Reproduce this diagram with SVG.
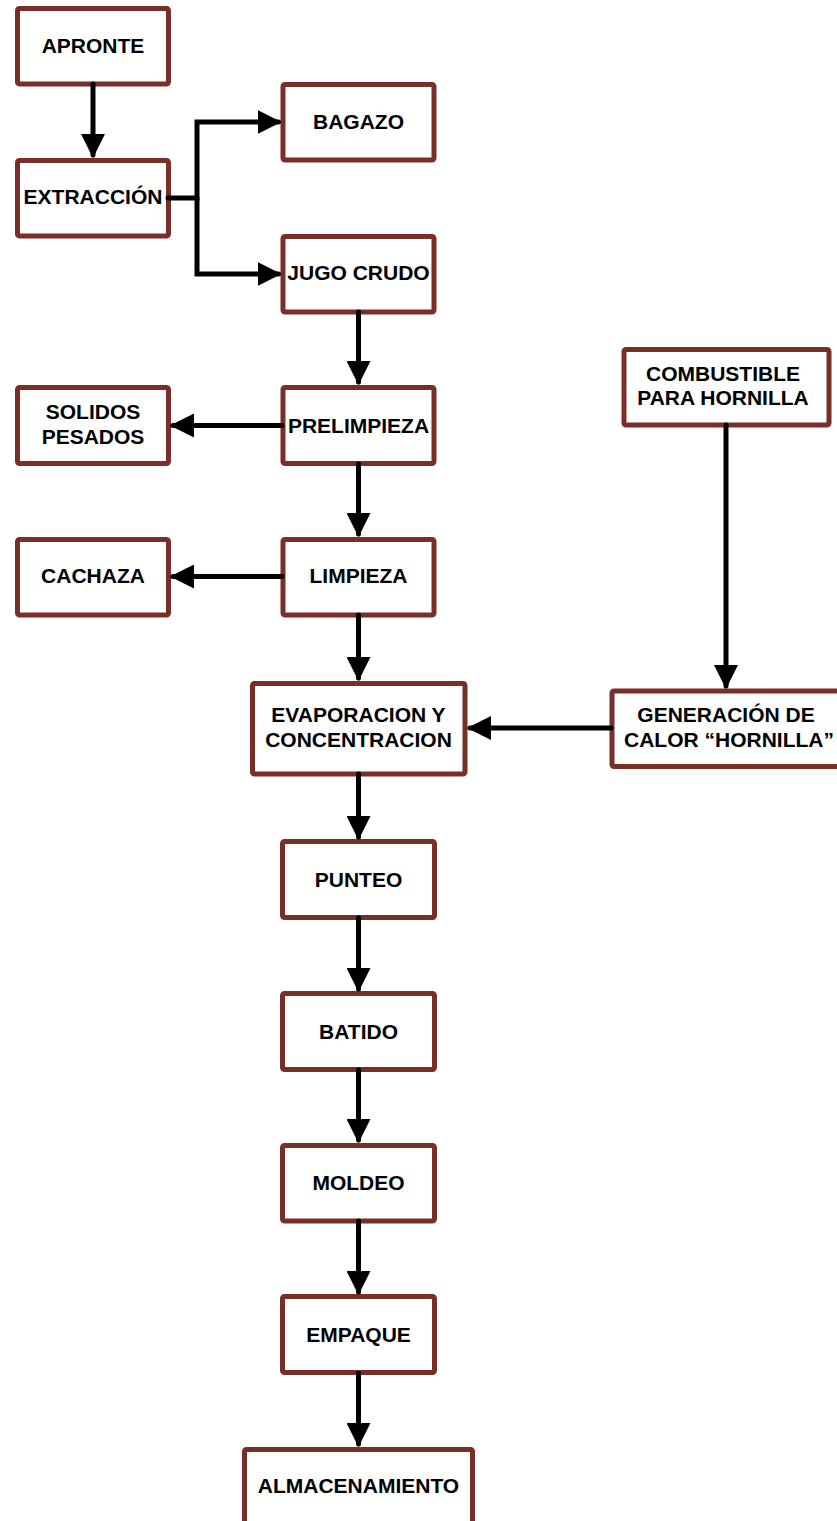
<svg xmlns="http://www.w3.org/2000/svg" width="837" height="1521" viewBox="0 0 837 1521">
  <style>
    .box { fill: #ffffff; stroke: #7a2e28; stroke-width: 5; }
    .lbl { font-family: "Liberation Sans", Arial, sans-serif; font-weight: bold; font-size: 21px; fill: #000000; text-anchor: middle; }
    .wire { fill: none; stroke: #000000; stroke-width: 5; stroke-linecap: round; stroke-linejoin: miter; }
  </style>
  <defs>
    <marker id="head" markerUnits="userSpaceOnUse" markerWidth="24" markerHeight="24" refX="21" refY="12" orient="auto">
      <path d="M0,0 L24,12 L0,24 Z" fill="#000000"/>
    </marker>
  </defs>
  <rect width="837" height="1521" fill="#ffffff"/>

  <!-- process steps -->
  <g id="apronte">
    <rect class="box" x="17.5" y="8.5" width="151" height="75.5" rx="2"/>
    <text class="lbl" x="93" y="53">APRONTE</text>
  </g>
  <g id="extraccion">
    <rect class="box" x="17.5" y="160.5" width="151" height="75.5" rx="2"/>
    <text class="lbl" x="93" y="204">EXTRACCIÓN</text>
  </g>
  <g id="bagazo">
    <rect class="box" x="283" y="84.5" width="151" height="75.5" rx="2"/>
    <text class="lbl" x="358.5" y="129">BAGAZO</text>
  </g>
  <g id="jugo-crudo">
    <rect class="box" x="283" y="236.5" width="151" height="75.5" rx="2"/>
    <text class="lbl" x="358.5" y="279.5">JUGO CRUDO</text>
  </g>
  <g id="combustible">
    <rect class="box" x="624" y="349.5" width="205" height="75.5" rx="2"/>
    <text class="lbl" x="723" y="380.5">COMBUSTIBLE</text>
    <text class="lbl" x="723" y="405">PARA HORNILLA</text>
  </g>
  <g id="solidos-pesados">
    <rect class="box" x="17.5" y="387.5" width="151" height="76" rx="2"/>
    <text class="lbl" x="93" y="419">SOLIDOS</text>
    <text class="lbl" x="93" y="444">PESADOS</text>
  </g>
  <g id="prelimpieza">
    <rect class="box" x="283" y="387.5" width="151" height="76" rx="2"/>
    <text class="lbl" x="358.5" y="432.5">PRELIMPIEZA</text>
  </g>
  <g id="cachaza">
    <rect class="box" x="17.5" y="539.5" width="151" height="75.5" rx="2"/>
    <text class="lbl" x="93" y="582.5">CACHAZA</text>
  </g>
  <g id="limpieza">
    <rect class="box" x="283" y="539.5" width="151" height="75.5" rx="2"/>
    <text class="lbl" x="358.5" y="582.5">LIMPIEZA</text>
  </g>
  <g id="evaporacion">
    <rect class="box" x="252.5" y="683.5" width="212.5" height="90.5" rx="2"/>
    <text class="lbl" x="358.5" y="721.5">EVAPORACION Y</text>
    <text class="lbl" x="358.5" y="747">CONCENTRACION</text>
  </g>
  <g id="generacion">
    <rect class="box" x="612" y="691" width="232" height="75.5" rx="2"/>
    <text class="lbl" x="726" y="721.5">GENERACIÓN DE</text>
    <text class="lbl" x="729" y="747">CALOR “HORNILLA”</text>
  </g>
  <g id="punteo">
    <rect class="box" x="282.5" y="841.5" width="152" height="76" rx="2"/>
    <text class="lbl" x="358.5" y="886.5">PUNTEO</text>
  </g>
  <g id="batido">
    <rect class="box" x="282.5" y="993.5" width="152" height="76" rx="2"/>
    <text class="lbl" x="358.5" y="1038.5">BATIDO</text>
  </g>
  <g id="moldeo">
    <rect class="box" x="282.5" y="1145.5" width="152" height="75.5" rx="2"/>
    <text class="lbl" x="358.5" y="1190">MOLDEO</text>
  </g>
  <g id="empaque">
    <rect class="box" x="282.5" y="1296.5" width="152" height="76" rx="2"/>
    <text class="lbl" x="358.5" y="1341.5">EMPAQUE</text>
  </g>
  <g id="almacenamiento">
    <rect class="box" x="244.5" y="1449.5" width="228" height="90" rx="2"/>
    <text class="lbl" x="358.5" y="1493">ALMACENAMIENTO</text>
  </g>

  <!-- flow connectors -->
  <g id="connectors">
    <path class="wire" d="M93,84 V155" marker-end="url(#head)"/>
    <path class="wire" d="M168,198 H197 V122 H278.5" marker-end="url(#head)"/>
    <path class="wire" d="M197,198 V274 H278.5" marker-end="url(#head)"/>
    <path class="wire" d="M358.5,312 V382" marker-end="url(#head)"/>
    <path class="wire" d="M282,425.5 H173" marker-end="url(#head)"/>
    <path class="wire" d="M358.5,464 V534" marker-end="url(#head)"/>
    <path class="wire" d="M282,576.5 H173" marker-end="url(#head)"/>
    <path class="wire" d="M358.5,615 V678" marker-end="url(#head)"/>
    <path class="wire" d="M726,425 V686" marker-end="url(#head)"/>
    <path class="wire" d="M611,728 H470" marker-end="url(#head)"/>
    <path class="wire" d="M358.5,774 V837" marker-end="url(#head)"/>
    <path class="wire" d="M358.5,918 V989" marker-end="url(#head)"/>
    <path class="wire" d="M358.5,1070 V1140" marker-end="url(#head)"/>
    <path class="wire" d="M358.5,1221 V1292" marker-end="url(#head)"/>
    <path class="wire" d="M358.5,1373 V1444" marker-end="url(#head)"/>
  </g>
</svg>
